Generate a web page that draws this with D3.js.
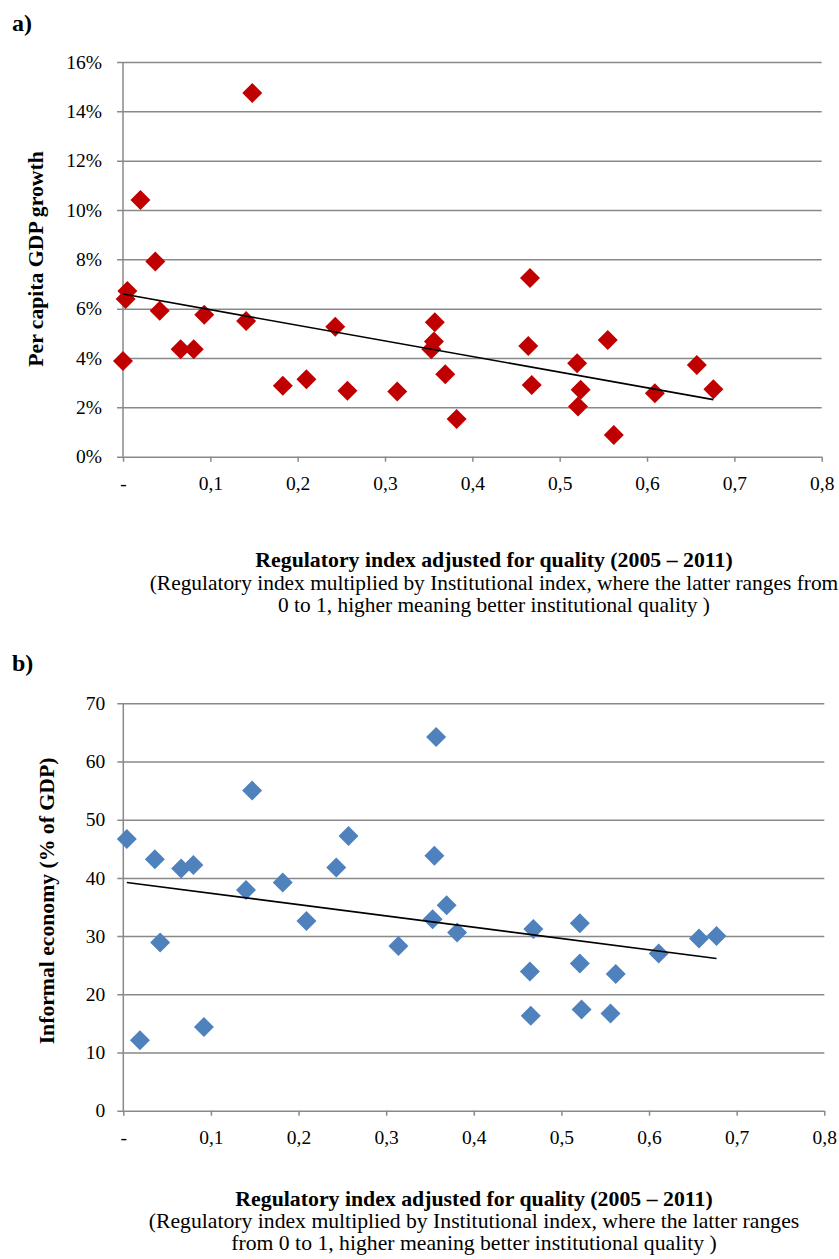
<!DOCTYPE html>
<html>
<head>
<meta charset="utf-8">
<script src="https://cdn.jsdelivr.net/npm/d3@7"></script>
<style>
    body { margin: 0; background: #fff; }
    text { font-family: "Liberation Serif", "Times New Roman", serif; fill: #000; }
</style>
</head>
<body>
<div id="chart"></div>
<script>
// Panel a: per capita GDP growth vs regulatory index
var growthX = [0, 0.005, 0.003, 0.037, 0.020, 0.148, 0.042, 0.093, 0.066, 0.081,
    0.141, 0.183, 0.210, 0.243, 0.257, 0.314, 0.357, 0.356, 0.353, 0.369,
    0.382, 0.466, 0.464, 0.468, 0.520, 0.524, 0.521, 0.555, 0.562, 0.609,
    0.657, 0.676];
var growthY = [0.0388, 0.0672, 0.0639, 0.0791, 0.1041, 0.1474, 0.0592, 0.0575, 0.0436, 0.0436,
    0.0550, 0.0288, 0.0314, 0.0527, 0.0267, 0.0264, 0.0545, 0.0467, 0.0436, 0.0334,
    0.0153, 0.0724, 0.0449, 0.0291, 0.0379, 0.0271, 0.0203, 0.0473, 0.0088, 0.0257,
    0.0372, 0.0273];

// Panel b: informal economy vs regulatory index
var informalX = [0.004, 0.036, 0.066, 0.080, 0.140, 0.147, 0.182, 0.243, 0.257, 0.042,
    0.019, 0.092, 0.209, 0.314, 0.353, 0.369, 0.381, 0.468, 0.464, 0.465,
    0.521, 0.521, 0.523, 0.556, 0.562, 0.611, 0.657, 0.677, 0.357, 0.355];
var informalY = [46.7, 43.2, 41.6, 42.2, 37.9, 55.0, 39.2, 41.8, 47.2, 28.9,
    12.1, 14.4, 32.6, 28.3, 32.9, 35.3, 30.6, 31.2, 23.9, 16.3,
    32.2, 25.3, 17.4, 16.7, 23.5, 27.0, 29.6, 30.0, 64.2, 43.8];

// Axis ticks
var xTicks = [0, 0.1, 0.2, 0.3, 0.4, 0.5, 0.6, 0.7, 0.8];
var xTickLabels = ['-', '0,1', '0,2', '0,3', '0,4', '0,5', '0,6', '0,7', '0,8'];
var growthTicks = [0, 0.02, 0.04, 0.06, 0.08, 0.10, 0.12, 0.14, 0.16];
var growthTickLabels = ['0%', '2%', '4%', '6%', '8%', '10%', '12%', '14%', '16%'];
var informalTicks = [0, 10, 20, 30, 40, 50, 60, 70];
var informalTickLabels = ['0', '10', '20', '30', '40', '50', '60', '70'];

// Titles
var xTitle = 'Regulatory index adjusted for quality (2005 \u2013 2011)';
var xNoteA = ['(Regulatory index multiplied by Institutional index, where the latter ranges from',
    '0 to 1, higher meaning better institutional quality )'];
var xNoteB = ['(Regulatory index multiplied by Institutional index, where the latter ranges',
    'from 0 to 1, higher meaning better institutional quality )'];

var width = 839, height = 1259;
var gridColor = '#898989';

var svg = d3.select('#chart').append('svg')
    .attr('width', width)
    .attr('height', height)
    .attr('viewBox', `0 0 ${width} ${height}`);

// simple least squares fit, returned as endpoints over the x range
function trend(xs, ys) {
    var mx = d3.mean(xs), my = d3.mean(ys);
    var sxy = d3.sum(xs, (x, i) => (x - mx) * (ys[i] - my));
    var sxx = d3.sum(xs, (x) => (x - mx) * (x - mx));
    var b = sxy / sxx, a = my - b * mx;
    var x0 = d3.min(xs), x1 = d3.max(xs);
    return [[x0, a + b * x0], [x1, a + b * x1]];
}

function drawPanel(opt) {
    var g = svg.append('g')
        .attr('transform', 'translate(' + opt.left + ',' + opt.top + ')');

    var xScale = d3.scaleLinear().domain([0, 0.8]).range([0, opt.w]);
    var yScale = d3.scaleLinear().domain(opt.yDomain).range([opt.h, 0]);

    // horizontal gridlines + y labels
    var yAxis = d3.axisLeft(yScale)
        .tickValues(opt.yTicks)
        .tickFormat((d, i) => opt.yLabels[i])
        .tickSize(-(opt.w + 6))
        .tickPadding(opt.yPad);
    g.append('g')
        .attr('class', 'axis y')
        .attr('transform', 'translate(-6,0)')
        .call(yAxis)
        .call((s) => s.select('.domain').remove())
        .call((s) => s.selectAll('line').attr('stroke', gridColor).attr('stroke-width', 1.5))
        .call((s) => s.selectAll('text').style('font-size', '19.5px').style('font-family', '"Liberation Serif", serif'));

    // x axis ticks and labels
    var xAxis = d3.axisBottom(xScale)
        .tickValues(xTicks)
        .tickFormat((d, i) => xTickLabels[i])
        .tickSize(5)
        .tickPadding(opt.xPad);
    g.append('g')
        .attr('class', 'axis x')
        .attr('transform', 'translate(0,' + opt.h + ')')
        .call(xAxis)
        .call((s) => s.select('.domain').remove())
        .call((s) => s.selectAll('line').attr('stroke', gridColor).attr('stroke-width', 1.5))
        .call((s) => s.selectAll('text').style('font-size', '19.5px').style('font-family', '"Liberation Serif", serif'));

    // vertical axis line
    g.append('line')
        .attr('x1', 0).attr('x2', 0)
        .attr('y1', 0).attr('y2', opt.h)
        .attr('stroke', gridColor)
        .attr('stroke-width', 1.5);

    // markers
    g.selectAll('path.pt')
        .data(opt.xs.map((x, i) => ({ x: x, y: opt.ys[i] })))
        .enter().append('path')
        .attr('class', 'pt')
        .attr('d', d3.symbol(d3.symbolSquare, 200))
        .attr('transform', (d) => 'translate(' + xScale(d.x) + ',' + yScale(d.y) + ') rotate(45)')
        .attr('fill', opt.color);

    // linear trend
    var fit = trend(opt.xs, opt.ys);
    g.append('path')
        .attr('d', d3.line().x((d) => xScale(d[0])).y((d) => yScale(d[1]))(fit))
        .attr('fill', 'none')
        .attr('stroke', '#000')
        .attr('stroke-width', 1.6);

    // y title
    svg.append('text')
        .attr('transform', 'translate(' + opt.yTitleX + ',' + opt.yTitleY + ') rotate(-90)')
        .attr('text-anchor', 'middle')
        .style('font-size', '21.7px')
        .style('font-weight', 'bold')
        .text(opt.yTitle);

    // x title and note
    svg.append('text')
        .attr('x', opt.noteX)
        .attr('y', opt.noteY)
        .attr('text-anchor', 'middle')
        .style('font-size', '21.8px')
        .style('font-weight', 'bold')
        .text(xTitle);

    svg.selectAll(null)
        .data(opt.note)
        .enter().append('text')
        .attr('x', opt.noteX)
        .attr('y', (d, i) => opt.noteY + opt.noteGap * (i + 1))
        .attr('text-anchor', 'middle')
        .style('font-size', opt.noteSize + 'px')
        .text((d) => d);

    // panel letter
    svg.append('text')
        .attr('x', 12)
        .attr('y', opt.letterY)
        .style('font-size', '24px')
        .style('font-weight', 'bold')
        .text(opt.letter);
}

drawPanel({
    left: 123, top: 62, w: 698.7, h: 394.7,
    yDomain: [0, 0.16], yTicks: growthTicks, yLabels: growthTickLabels, yPad: 15, xPad: 14,
    xs: growthX, ys: growthY, color: '#C00000',
    yTitle: 'Per capita GDP growth', yTitleX: 43, yTitleY: 259,
    note: xNoteA, noteX: 494, noteY: 567, noteSize: 21.4, noteGap: 22.5,
    letter: 'a)', letterY: 31
});

drawPanel({
    left: 123.3, top: 703.3, w: 701, h: 407.4,
    yDomain: [0, 70], yTicks: informalTicks, yLabels: informalTickLabels, yPad: 12, xPad: 14,
    xs: informalX, ys: informalY, color: '#4F81BD',
    yTitle: 'Informal economy (% of GDP)', yTitleX: 54, yTitleY: 901,
    note: xNoteB, noteX: 474, noteY: 1206, noteSize: 21.7, noteGap: 22,
    letter: 'b)', letterY: 671
});
</script>
</body>
</html>
